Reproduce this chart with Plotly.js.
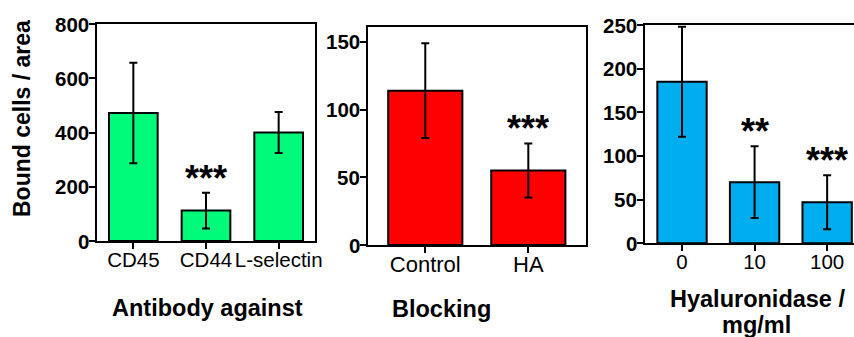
<!DOCTYPE html>
<html>
<head>
<meta charset="utf-8">
<script src="https://cdn.plot.ly/plotly-3.0.1.min.js"></script>
<style>html,body{margin:0;padding:0;background:#fff;}#chart{width:854px;height:337px;}</style>
</head>
<body>
<div id="chart"></div>
<script>
// Panel 1: Antibody against
const cats1 = ['CD45', 'CD44', 'L-selectin'];
const vals1 = [472, 112, 400];
const errs1 = [185, 66, 76];
const sig1 = ['', '***', ''];
const yticks1 = [0, 200, 400, 600, 800];

// Panel 2: Blocking
const cats2 = ['Control', 'HA'];
const vals2 = [114, 55];
const errs2 = [35, 20];
const sig2 = ['', '***'];
const yticks2 = [0, 50, 100, 150];

// Panel 3: Hyaluronidase / mg/ml
const cats3 = ['0', '10', '100'];
const vals3 = [185, 70, 47];
const errs3 = [63, 41, 31];
const sig3 = ['', '**', '***'];
const yticks3 = [0, 50, 100, 150, 200, 250];

const yTitle = 'Bound cells / area';
const xTitles = ['Antibody against', 'Blocking', 'Hyaluronidase /', 'mg/ml'];

const FONT = 'Arial, "Liberation Sans", sans-serif';
const W = 854, H = 337;
const px = v => v / W;
const py = v => (H - v) / H;

function barTrace(cats, vals, errs, color, width, xa, ya) {
  return {
    type: 'bar', x: cats, y: vals, xaxis: xa, yaxis: ya,
    width: width,
    marker: {color: color, line: {color: '#000', width: 2}},
    error_y: {type: 'data', array: errs, visible: true, color: '#000', thickness: 2, width: 4},
    hoverinfo: 'skip', showlegend: false
  };
}

const data = [
  barTrace(cats1, vals1, errs1, '#00FA7A', 0.67, 'x', 'y'),
  barTrace(cats2, vals2, errs2, '#FF0000', 0.72, 'x2', 'y2'),
  barTrace(cats3, vals3, errs3, '#00AEEF', 0.68, 'x3', 'y3')
];

function xaxis(domain, range, mirror, anchor, cats, fsize) {
  return {
    domain: domain, range: range, anchor: anchor, type: 'category',
    categoryorder: 'array', categoryarray: cats,
    showline: true, linecolor: '#000', linewidth: 2, mirror: mirror,
    ticks: 'outside', ticklen: 6, tickwidth: 2, tickcolor: '#000',
    tickangle: 0, ticklabelstandoff: -7,
    tickfont: {family: FONT, size: fsize, color: '#000'},
    showgrid: false, zeroline: false, fixedrange: true
  };
}
function yaxis(domain, range, ticks, mirror, anchor) {
  return {
    domain: domain, range: range, anchor: anchor,
    tickmode: 'array', tickvals: ticks, showticklabels: false,
    showline: true, linecolor: '#000', linewidth: 2, mirror: mirror,
    ticks: 'outside', ticklen: 6, tickwidth: 2, tickcolor: '#000',
    showgrid: false, zeroline: false, fixedrange: true
  };
}

const annotations = [];
// bold y tick labels, placed by the axis scale
function addYLabels(ticks, ya, xDomLeft) {
  ticks.forEach(t => {
    annotations.push({
      xref: 'paper', yref: ya, x: xDomLeft, y: t, text: '<b>' + t + '</b>',
      showarrow: false, xanchor: 'right', yanchor: 'middle', xshift: -6,
      font: {family: FONT, size: 20.5, color: '#000'}
    });
  });
}
addYLabels(yticks1, 'y', px(97));
addYLabels(yticks2, 'y2', px(368));
addYLabels(yticks3, 'y3', px(645));

function addSig(cats, vals, errs, sig, xa, ya) {
  cats.forEach((c, i) => {
    if (!sig[i]) return;
    annotations.push({
      x: i, y: vals[i] + errs[i], xref: xa, yref: ya,
      text: sig[i], showarrow: false, yanchor: 'bottom', yshift: -8,
      font: {family: FONT, size: 36, color: '#000', weight: 700}
    });
  });
}
addSig(cats1, vals1, errs1, sig1, 'x', 'y');
addSig(cats2, vals2, errs2, sig2, 'x2', 'y2');
addSig(cats3, vals3, errs3, sig3, 'x3', 'y3');

const titleFont = {family: FONT, size: 23.5, color: '#000', weight: 700};
function title(text, x, y) {
  annotations.push({xref: 'paper', yref: 'paper', x: px(x), y: py(y), text: '<b>' + text + '</b>', showarrow: false, xanchor: 'center', yanchor: 'middle', font: titleFont});
}
title(xTitles[0], 207, 308);
title(xTitles[1], 441, 309);
title(xTitles[2], 757, 299);
title(xTitles[3], 756, 325);
annotations.push({xref: 'paper', yref: 'paper', x: px(22), y: py(119), text: '<b>' + yTitle + '</b>', showarrow: false, textangle: -90, xanchor: 'center', yanchor: 'middle', font: {family: FONT, size: 23, color: '#000', weight: 700}});

const layout = {
  width: W, height: H,
  margin: {l: 0, r: 0, t: 0, b: 0},
  paper_bgcolor: '#fff', plot_bgcolor: 'rgba(0,0,0,0)',
  bargap: 0.3,
  xaxis: xaxis([px(97), px(315)], [-0.5, 2.5], true, 'y', cats1, 20.5),
  yaxis: yaxis([py(241), py(24)], [0, 800], yticks1, true, 'x'),
  xaxis2: xaxis([px(368), px(586)], [-0.556, 1.56], true, 'y2', cats2, 22),
  yaxis2: yaxis([py(245), py(27)], [0, 161], yticks2, true, 'x2'),
  xaxis3: xaxis([px(645), 1], [-0.51, 2.37], true, 'y3', cats3, 20.5),
  yaxis3: yaxis([py(243.3), py(25)], [0, 250], yticks3, false, 'x3'),
  annotations: annotations
};

Plotly.newPlot('chart', data, layout, {staticPlot: true, displayModeBar: false});
</script>
</body>
</html>
